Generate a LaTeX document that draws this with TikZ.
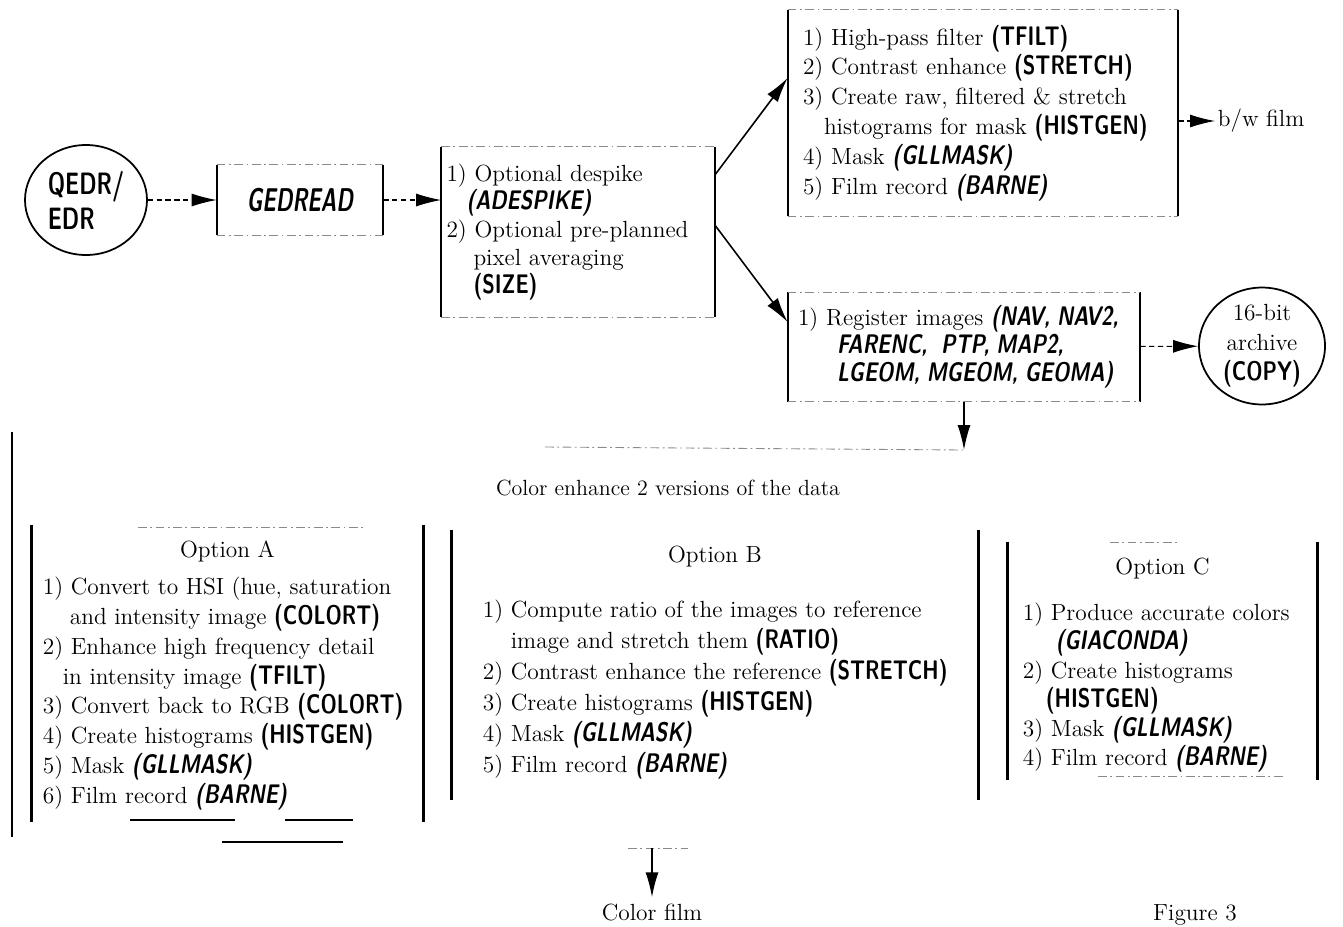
\documentclass[tikz,border=0pt]{standalone}
\usepackage{tikz}
\usepackage{graphicx}
\usetikzlibrary{arrows.meta, positioning, shapes.geometric}
\definecolor{smudge}{HTML}{8A8A8A}
\newcommand{\prog}[1]{\scalebox{0.88}[1.15]{\sffamily\bfseries #1}}
\newcommand{\progi}[1]{\scalebox{0.88}[1.15]{\sffamily\bfseries\itshape #1}}
\newcommand{\scanframe}[1]{%
  \draw[Side] (#1.north west) -- (#1.south west) (#1.north east) -- (#1.south east);
  \draw[Rim] (#1.north west) -- (#1.north east) (#1.south west) -- (#1.south east);}
\newcommand{\uprights}[1]{%
  \draw[Side, line width=1.4pt] (#1.north west) -- (#1.south west) (#1.north east) -- (#1.south east);}

\begin{document}
\begin{tikzpicture}[x=0.2mm, y=-0.2mm, font=\fontsize{13.3}{17}\selectfont,
  Flow/.style={-{Latex[length=5mm, width=2.6mm]}, line width=0.9pt},
  Hop/.style={Flow, densely dashed, line width=0.6pt},
  Side/.style={line width=1.1pt},
  Rim/.style={smudge, line width=0.5pt, dash pattern=on 5pt off 2pt on 1pt off 2pt},
  Box/.style={inner sep=0pt, align=left},
  Steps/.style={inner sep=0.5mm, align=left, anchor=north west},
  Ring/.style={ellipse, draw, line width=1pt, inner sep=0pt, align=center}]
\useasboundingbox (0,0) rectangle (1343,926);

% input side
\node[Ring, align=left, minimum width=24.4mm, minimum height=22mm, font=\fontsize{16}{20}\selectfont] (edr) at (86,200) {\scalebox{0.78}[1.1]{\sffamily\bfseries QEDR/}\\\scalebox{0.78}[1.1]{\sffamily\bfseries EDR}};
\node[Box, align=center, minimum width=33.2mm, minimum height=14mm, font=\fontsize{15}{18}\selectfont] (ged) at (300,200) {\scalebox{0.8}[1.25]{\sffamily\bfseries\itshape GEDREAD}};
\node[Box, text width=52.6mm, inner xsep=1mm, minimum height=34mm, font=\fontsize{13.3}{16}\selectfont] (prep) at (578,232) {1) Optional despike\\
\hspace*{4mm}\progi{(ADESPIKE)}\\
2) Optional pre-planned\\
\hspace*{5.4mm}pixel averaging\\
\hspace*{5.4mm}\prog{(SIZE)}};

% black and white branch
\node[Box, text width=72mm, inner xsep=3mm, minimum height=41.2mm] (bw) at (983,113) {1) High-pass filter \prog{(TFILT)}\\
2) Contrast enhance \prog{(STRETCH)}\\
3) Create raw, filtered \& stretch\\
\hspace*{4.2mm}histograms for mask \prog{(HISTGEN)}\\
4) Mask \progi{(GLLMASK)}\\
5) Film record \progi{(BARNE)}};
\node[anchor=west, inner sep=0.5mm] (bwf) at (1215,121) {b/w film};

% registration
\node[Box, text width=66.4mm, inner xsep=2mm, minimum height=21.8mm, font=\fontsize{13.3}{16}\selectfont] (reg) at (964,347) {1) Register images \progi{(NAV, NAV2,}\\
\hspace*{7.8mm}\progi{FARENC,\ \ PTP, MAP2,}\\
\hspace*{7.8mm}\progi{LGEOM, MGEOM, GEOMA)}};
\node[Ring, minimum width=25.2mm, minimum height=22.4mm] (arch) at (1262,346) {16-bit\\archive\\\prog{(COPY)}};
\coordinate (fork) at (964,450);
\coordinate (forkEnd) at (545,447);

\scanframe{ged}
\scanframe{prep}
\scanframe{bw}
\scanframe{reg}

\draw[Hop] (edr) -- (ged);
\draw[Hop] (ged.east) -- (ged.east -| prep.west);
\draw[Flow] ([yshift=11.4mm]prep.east) -- ([yshift=7mm]bw.west);
\draw[Flow] ([yshift=1.4mm]prep.east) -- ([yshift=5mm]reg.west);
\draw[Hop] (bwf.west -| bw.east) -- (bwf.west);
\draw[Hop] (reg) -- (arch);
\draw[Flow] (reg) -- (fork);
\draw[Rim] (forkEnd) -- (fork);

\node[font=\fontsize{12.5}{15}\selectfont] (note) at (668,488) {Color enhance 2 versions of the data};

% three colour options
\node[minimum width=78.2mm, minimum height=59.4mm] (optA) at (227.5,673.5) {};
\node[below=2mm of optA.north] (titA) {Option A};
\node[Steps] (lstA) at (40,574) {1) Convert to HSI (hue, saturation\\
\hspace*{5.4mm}and intensity image \prog{(COLORT)}\\
2) Enhance high frequency detail\\
\hspace*{4mm}in intensity image \prog{(TFILT)}\\
3) Convert back to RGB \prog{(COLORT)}\\
4) Create histograms \prog{(HISTGEN)}\\
5) Mask \progi{(GLLMASK)}\\
6) Film record \progi{(BARNE)}};

\node[minimum width=105.2mm, minimum height=54mm] (optB) at (715,665) {};
\node[below=2mm of optB.north] (titB) {Option B};
\node[Steps, font=\fontsize{13.3}{17.6}\selectfont] (lstB) at (480,597) {1) Compute ratio of the images to reference\\
\hspace*{5.6mm}image and stretch them \prog{(RATIO)}\\
2) Contrast enhance the reference \prog{(STRETCH)}\\
3) Create histograms \prog{(HISTGEN)}\\
4) Mask \progi{(GLLMASK)}\\
5) Film record \progi{(BARNE)}};

\node[minimum width=61.8mm, minimum height=47.6mm] (optC) at (1162.5,661) {};
\node[below=2mm of optC.north] (titC) {Option C};
\node[Steps, font=\fontsize{13.3}{16.5}\selectfont] (lstC) at (1020,600) {1) Produce accurate colors\\
\hspace*{6.6mm}\progi{(GIACONDA)}\\
2) Create histograms\\
\hspace*{4.6mm}\prog{(HISTGEN)}\\
3) Mask \progi{(GLLMASK)}\\
4) Film record \progi{(BARNE)}};

\uprights{optA}
\uprights{optB}
\uprights{optC}
\draw[Side] (12,432) -- (12,837);
\draw[Rim] (138,527) -- (363,527);
\draw[line width=0.8pt] (130,820) -- (235,820) (285,820) -- (353,820) (222,842) -- (343,842);
\draw[Rim] (1110,542) -- (1177,542) (1098,776) -- (1285,776);

% colour output
\node (cfilm) at (652,912) {Color film};
\coordinate (cfTop) at (652,848);
\draw[Rim] (628,848) -- (688,848);
\draw[Flow] (cfTop) -- (cfilm);
\node[anchor=base] (fig) at (1195,920) {Figure 3};
\end{tikzpicture}
\end{document}
